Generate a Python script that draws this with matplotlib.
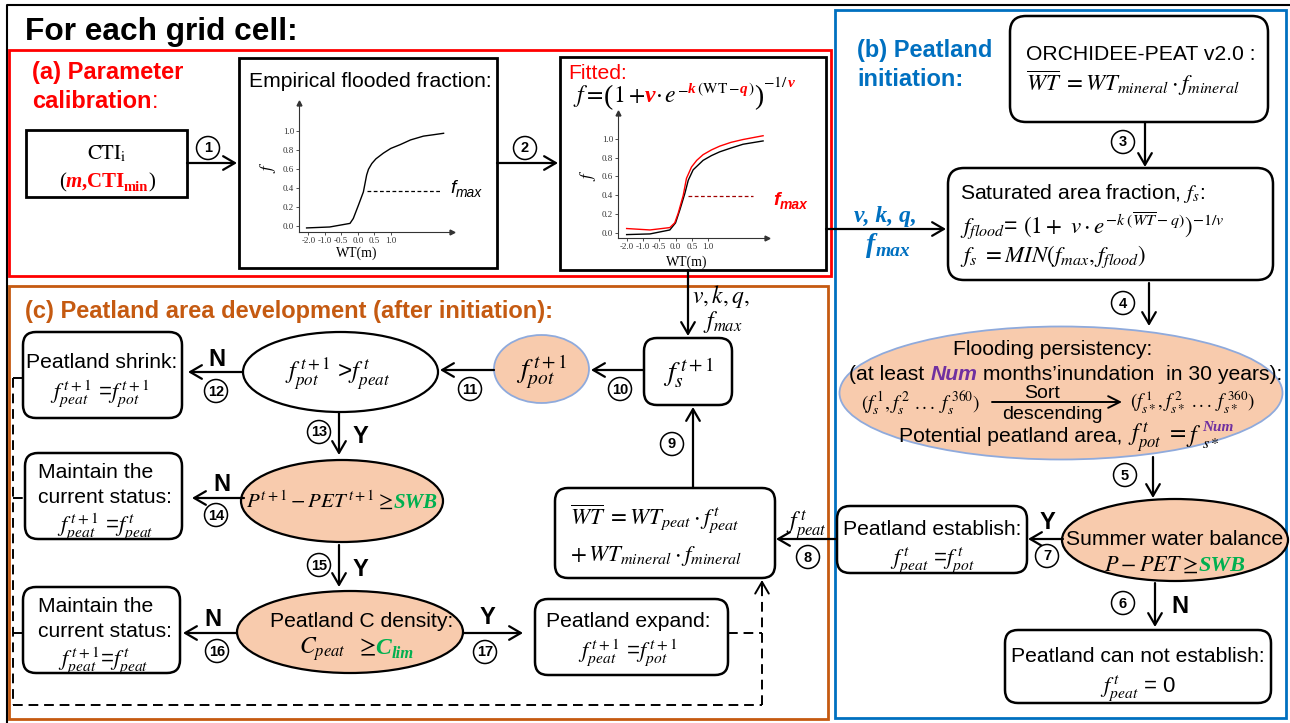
import matplotlib
matplotlib.use("Agg")
import matplotlib.pyplot as plt
from matplotlib.patches import Rectangle, FancyBboxPatch, Ellipse, Circle

plt.rcParams['font.family'] = ['Liberation Sans', 'DejaVu Sans']
plt.rcParams['mathtext.fontset'] = 'stix'

# ---- data for the two small flooded-fraction plots (x = tick slot, f = fraction)
wt_labels = ['-2.0', '-1.0', '-0.5', '0.0', '0.5', '1.0']
f_ticks = [0.0, 0.2, 0.4, 0.6, 0.8, 1.0]

emp_x = [-0.1, 1.3, 2.53, 2.73, 3.04, 3.34, 3.54, 3.65, 3.85, 4.1, 4.55, 5.0, 5.57, 6.2, 6.98, 7.6, 8.2]
emp_f = [-0.02, -0.01, 0.028, 0.08, 0.22, 0.36, 0.54, 0.60, 0.66, 0.71, 0.77, 0.82, 0.86, 0.91, 0.95, 0.965, 0.98]
emp_fmax = 0.37
emp_fmax_x = [3.54, 8.1]

fit_x = [0.0, 1.43, 2.65, 3.0, 3.27, 3.57, 3.78, 4.08, 4.69, 5.2, 5.71, 6.4, 7.14, 8.37]
fit_obs_f = [-0.014, -0.007, 0.035, 0.11, 0.25, 0.42, 0.56, 0.67, 0.77, 0.82, 0.86, 0.90, 0.94, 0.975]
fit_red_x = [0.0, 1.43, 2.65, 2.95, 3.16, 3.47, 3.67, 3.98, 4.3, 4.69, 5.2, 5.71, 6.4, 7.14, 8.37]
fit_red_f = [0.05, 0.035, 0.06, 0.11, 0.21, 0.40, 0.58, 0.70, 0.77, 0.83, 0.88, 0.92, 0.96, 0.99, 1.03]
fit_fmax = 0.39
fit_fmax_x = [3.78, 7.76]

RED = '#FF0000'
BLUE = '#0070C0'
ORANGE = '#C55A11'
PEACH = '#F8CBAD'
GREEN = '#00B050'
PURPLE = '#7030A0'
EDGE_BLUE = '#8FAADC'
SERIF = 'Liberation Serif'
FS = 15.2    # body text
MS = 16      # inline equations
YN = 17      # Y / N labels

fig = plt.figure(figsize=(12.9, 7.23), dpi=100)
ax = fig.add_axes([0, 0, 1, 1])
ax.set_xlim(0, 1290)
ax.set_ylim(723, 0)
ax.axis('off')
R = fig.canvas.get_renderer()

BI = dict(family=SERIF, style='italic', weight='bold')


def rect(x0, y0, x1, y1, color='black', lw=1.8):
    ax.add_patch(Rectangle((x0, y0), x1 - x0, y1 - y0, fc='none', ec=color, lw=lw))


def rbox(x0, y0, x1, y1, r=13, lw=1.8):
    ax.add_patch(FancyBboxPatch((x0, y0), x1 - x0, y1 - y0,
                                boxstyle=f"round,pad=0,rounding_size={r}",
                                fc='white', ec='black', lw=lw))


def ell(cx, cy, w, h, fc=PEACH, ec='black', lw=1.6):
    ax.add_patch(Ellipse((cx, cy), w, h, fc=fc, ec=ec, lw=lw))


def arrow(x0, y0, x1, y1, lw=1.6):
    ax.annotate('', xy=(x1, y1), xytext=(x0, y0),
                arrowprops=dict(arrowstyle='->,head_length=0.6,head_width=0.35',
                                lw=lw, color='black', shrinkA=0, shrinkB=0,
                                mutation_scale=14))


def num(cx, cy, n):
    ax.add_patch(Circle((cx, cy), 11.5, fc='white', ec='black', lw=1.1, zorder=3))
    ax.text(cx, cy + 0.5, str(n), ha='center', va='center', fontsize=10.5,
            weight='bold', zorder=4)


def txt(x, y, s, ha='center', fs=FS, **kw):
    ax.text(x, y, s, ha=ha, va='baseline', fontsize=fs, **kw)


def rich(x, y, parts, ha='center', fs=FS):
    items = []
    for p in parts:
        s = p[0]
        kw = dict(p[1]) if len(p) > 1 else {}
        dy = kw.pop('dy', 0)
        adv = kw.pop('adv', True)
        kw.setdefault('fontsize', fs)
        t = ax.text(0, y + dy, s, ha='left', va='baseline', **kw)
        w = t.get_window_extent(R).width
        items.append((t, w, adv))
    total = sum(w for _, w, a in items if a)
    cx = x - total / 2 if ha == 'center' else x
    for t, w, a in items:
        t.set_x(cx)
        if a:
            cx += w


def mini(px0, px1, py0, py1, xlim, ylim):
    a = fig.add_axes([px0 / 1290, (723 - py1) / 723, (px1 - px0) / 1290, (py1 - py0) / 723])
    a.set_xlim(*xlim)
    a.set_ylim(*ylim)
    a.patch.set_visible(False)
    for sp in ['top', 'right']:
        a.spines[sp].set_visible(False)
    for sp in ['left', 'bottom']:
        a.spines[sp].set_linewidth(0.8)
        a.spines[sp].set_color('#333333')
    a.set_xticks(range(len(wt_labels)))
    a.set_xticklabels(wt_labels)
    a.set_yticks(f_ticks)
    a.set_yticklabels([f'{v:.1f}' for v in f_ticks])
    a.tick_params(axis='both', labelsize=6.5, length=2, width=0.6, pad=1.5, colors='#333333')
    for lab in a.get_xticklabels() + a.get_yticklabels():
        lab.set_family(SERIF)
    a.plot(1, ylim[0], '>', color='#333333', ms=3.5, transform=a.get_yaxis_transform(), clip_on=False)
    a.plot(xlim[0], 1, '^', color='#333333', ms=3.5, transform=a.get_xaxis_transform(), clip_on=False)
    return a


# ---------------- frames
ax.plot([7, 7, 1290], [723, 5, 5], color='black', lw=1.5)
rect(9, 50, 831, 276, color=RED, lw=2)
rect(9, 286, 828, 719, color=ORANGE, lw=2)
rect(835, 10, 1286, 718, color=BLUE, lw=2)

txt(25, 40, 'For each grid cell:', ha='left', fs=22.8, weight='bold')

# ---------------- (a) parameter calibration
txt(32, 79, '(a) Parameter', ha='left', fs=17, weight='bold', color=RED)
rich(32, 108, [('calibration', dict(weight='bold', color=RED)), (':', dict(color=RED))],
     ha='left', fs=17)

rect(26, 130, 187, 197, lw=2)
txt(107, 159, r'$\mathrm{CTI}_\mathrm{i}$', fs=15)
rich(107, 187, [('(', dict(family=SERIF)),
                ('m', dict(color=RED, **BI)),
                (',', dict(color=RED, family=SERIF, weight='bold')),
                ('CTI', dict(color=RED, family=SERIF, weight='bold')),
                ('min', dict(color=RED, family=SERIF, weight='bold', fontsize=10.5, dy=4)),
                (')', dict(family=SERIF))], fs=15)
arrow(187, 163, 237, 163)
num(208, 148, 1)

rect(239, 58, 497, 268, lw=2)
txt(370, 87, 'Empirical flooded fraction:')
e = mini(299, 452, 103, 232, (-0.56, 8.71), (-0.063, 1.30))
e.plot(emp_x, emp_f, color='black', lw=1.0)
e.plot(emp_fmax_x, [emp_fmax, emp_fmax], color='black', lw=0.9, ls=(0, (3, 2)))
txt(357, 257, 'WT(m)', fs=10, family=SERIF)
ax.text(268, 167, '$f$', ha='center', va='center', fontsize=12, rotation=90)
rich(450, 193, [('f', dict(style='italic', fontsize=14)),
                ('max', dict(style='italic', fontsize=10, dy=4))], ha='left')

arrow(497, 163, 558, 163)
num(525, 148, 2)

rect(560, 57, 826, 270, lw=2)
txt(568, 79, 'Fitted:', ha='left', color=RED)
sup = dict(fontsize=11, dy=-9)
sup2 = dict(fontsize=11, dy=-15)
rich(573, 102, [('$f=$', {}),
                ('(', dict(fontsize=20, family=SERIF, dy=2)),
                ('$1+$', {}),
                ('v', dict(color=RED, **BI)),
                (r'$\cdot\,e$', {}),
                ('$-$', dict(sup)),
                ('k', dict(color=RED, **BI, **sup)),
                (r'$\,(\mathrm{WT}-$', dict(sup)),
                ('q', dict(color=RED, **BI, **sup)),
                ('$)$', dict(sup)),
                (')', dict(fontsize=20, family=SERIF, dy=2)),
                ('$-1/$', dict(sup2)),
                ('v', dict(color=RED, **BI, **sup2))], ha='left', fs=17)
g = mini(618, 767, 113, 238, (-0.53, 8.61), (-0.05, 1.27))
g.plot(fit_x, fit_obs_f, color='black', lw=1.0)
g.plot(fit_red_x, fit_red_f, color=RED, lw=1.0)
g.plot(fit_fmax_x, [fit_fmax, fit_fmax], color='#A00000', lw=0.9, ls=(0, (3, 2)))
txt(687, 266, 'WT(m)', fs=10, family=SERIF)
ax.text(588, 175, '$f$', ha='center', va='center', fontsize=12, rotation=90)
rich(773, 205, [('f', dict(style='italic', weight='bold', color=RED, fontsize=14)),
                ('max', dict(style='italic', weight='bold', color=RED, fontsize=10, dy=4))],
     ha='left')

# parameters passed to (b) and (c)
arrow(826, 229, 946, 229)
rich(885, 222, [('v, k, q,', dict(color=BLUE, **BI))], fs=17)
rich(888, 252, [('f', dict(color=BLUE, **BI)),
                ('max', dict(color=BLUE, fontsize=14, dy=4, **BI))], fs=20)

arrow(688, 270, 688, 336)
txt(692, 303, '$v,k,q,$', ha='left', fs=17)
txt(703, 328, '$f_{max}$', ha='left', fs=17)

# ---------------- (b) peatland initiation
txt(857, 57, '(b) Peatland', ha='left', fs=17, weight='bold', color=BLUE)
txt(857, 86, 'initiation:', ha='left', fs=17, weight='bold', color=BLUE)

rbox(1010, 16, 1268, 122, r=16)
txt(1026, 60, 'ORCHIDEE-PEAT v2.0 :', ha='left')
txt(1026, 91, r'$\overline{WT}\ = WT_{mineral}\cdot f_{mineral}$', ha='left', fs=16.5)

arrow(1145, 122, 1145, 167)
num(1123, 142, 3)

rbox(948, 168, 1273, 280, r=16)
txt(960, 199, 'Saturated area fraction, $f_s$:', ha='left')
txt(960, 233, r'$f_{flood}$= $\left(1+\ v\cdot e^{-k\ (\overline{WT}-q)}\right)^{-1/v}$', ha='left', fs=16.5)
txt(960, 262, r'$f_s\ = MIN\left(f_{max}, f_{flood}\right)$', ha='left', fs=16.5)

arrow(1149, 283, 1149, 326)
num(1123, 303, 4)

ell(1061, 393, 443, 133, ec=EDGE_BLUE, lw=1.3)
txt(1053, 355, 'Flooding persistency:')
rich(1066, 380, [('(at least ', {}),
                 ('Num', dict(color=PURPLE, weight='bold', style='italic')),
                 (' months\u2019inundation  in 30 years):', {})])
txt(921, 409, r'$(f_s^{\,1}, f_s^{\,2}\ ...\ f_s^{\,360})$', fs=14)
ax.annotate('', xy=(1122, 402), xytext=(992, 402),
            arrowprops=dict(arrowstyle='->,head_length=0.6,head_width=0.3', lw=1.4,
                            color='black', shrinkA=0, shrinkB=0, mutation_scale=14))
txt(1042, 398, 'Sort', fs=14)
txt(1052, 419, 'descending', fs=14)
txt(1193, 409, r'$(f_{s*}^{\,1}, f_{s*}^{\,2}\ ...\ f_{s*}^{\,360})$', fs=13.5)
rich(1066, 442, [('Potential peatland area, ', {}),
                 ('$f_{pot}^{\\,t}\\ =\\ $', dict(fontsize=17)),
                 ('$f$', dict(fontsize=17)),
                 ('$s*$', dict(fontsize=11.5, dy=6, adv=False)),
                 ('Num', dict(color=PURPLE, fontsize=11, dy=-11, **BI))])

arrow(1153, 457, 1153, 498)
num(1125, 475, 5)

ell(1175, 540, 226, 82)
txt(1175, 545, 'Summer water balance')
rich(1175, 571, [(r'$P-PET\geq\ $', {}), ('SWB', dict(color=GREEN, **BI))], fs=16)

arrow(1063, 539, 1028, 539)
txt(1047, 529, 'Y', fs=YN, weight='bold')
num(1047, 556, 7)

rbox(837, 506, 1027, 573)
txt(932, 535, 'Peatland establish:')
txt(932, 564, r'$f_{peat}^{\,t}$ =$f_{pot}^{\,t}$', fs=MS)

arrow(1155, 583, 1155, 627)
num(1123, 603, 6)
txt(1180, 613, 'N', fs=YN, weight='bold')

rbox(1005, 630, 1271, 703)
txt(1138, 662, 'Peatland can not establish:')
txt(1138, 692, r'$f_{peat}^{\,t}$ = 0', fs=MS)

# ---------------- (c) peatland area development
txt(25, 318, '(c) Peatland area development (after initiation):', ha='left', fs=17,
    weight='bold', color=ORANGE)

arrow(837, 539, 776, 539)
txt(806, 530, r'$f_{peat}^{\,t}$', fs=17)
num(808, 557, 8)

rbox(555, 488, 775, 578)
txt(570, 525, r'$\overline{WT}\ = WT_{peat}\cdot f_{peat}^{\,t}$', ha='left', fs=16.5)
txt(570, 561, r'$+\,WT_{mineral}\cdot f_{mineral}$', ha='left', fs=16.5)

arrow(693, 488, 693, 407)
num(672, 444, 9)

rbox(644, 338, 732, 405)
txt(688, 381, r'$f_s^{\,t+1}$', fs=20)

arrow(644, 370, 591, 370)
num(620, 389, 10)

ell(541.5, 369, 95, 68, ec=EDGE_BLUE, lw=1.3)
txt(541, 378, r'$f_{pot}^{\,t+1}$', fs=20)

arrow(494, 370, 440, 370)
num(470, 389, 11)

ell(340.5, 372, 195, 80, fc='white')
txt(338, 380, r'$f_{pot}^{\,t+1}$ >$f_{peat}^{\,t}$', fs=17.5)

arrow(243, 372, 188, 372)
txt(217, 366, 'N', fs=YN, weight='bold')
num(216, 391, 12)

rbox(23, 332, 182, 418)
txt(102, 368, 'Peatland shrink:')
txt(100, 398, r'$f_{peat}^{\,t+1}$ =$f_{pot}^{\,t+1}$', fs=MS)

arrow(339, 413, 339, 455)
num(319, 432, 13)
txt(360, 443, 'Y', fs=YN, weight='bold')

ell(342, 501, 202, 82)
rich(342, 508, [(r'$P^{t+1}-PET^{\,t+1}\geq\ $', {}), ('SWB', dict(color=GREEN, **BI))], fs=15)

arrow(244, 498, 192, 498)
txt(222, 491, 'N', fs=YN, weight='bold')
num(216, 515, 14)

rbox(25, 453, 182, 539)
txt(38, 478, 'Maintain the', ha='left')
txt(38, 503, 'current status:', ha='left')
txt(105, 531, r'$f_{peat}^{\,t+1}$ =$f_{peat}^{\,t}$', fs=MS)

arrow(339, 545, 339, 587)
num(319, 565, 15)
txt(360, 576, 'Y', fs=YN, weight='bold')

ell(350, 632, 226, 82)
txt(362, 627, 'Peatland C density:')
rich(356, 654, [(r'$C_{peat}\ \ \geq\ $', {}), ('C', dict(color=GREEN, **BI)),
                ('lim', dict(color=GREEN, fontsize=12, dy=4, **BI))], fs=17)

arrow(237, 633, 183, 633)
txt(213, 626, 'N', fs=YN, weight='bold')
num(217, 651, 16)

rbox(23, 587, 180, 673)
txt(38, 612, 'Maintain the', ha='left')
txt(38, 637, 'current status:', ha='left')
txt(103, 665, r'$f_{peat}^{\,t+1}$=$f_{peat}^{\,t}$', fs=MS)

arrow(463, 633, 523, 633)
txt(487, 624, 'Y', fs=YN, weight='bold')
num(485, 652, 17)

rbox(535, 599, 728, 675)
txt(628, 627, 'Peatland expand:')
txt(628, 657, r'$f_{peat}^{\,t+1}$ =$f_{pot}^{\,t+1}$', fs=MS)

# dashed feedback loop
dash = dict(color='black', lw=1.4, ls=(0, (5, 3)))
ax.plot([728, 762], [633, 633], **dash)
ax.plot([762, 762], [705, 586], **dash)
ax.plot([13, 762], [705, 705], **dash)
ax.plot([13, 13], [378, 705], **dash)
for yy, xx in [(378, 23), (498, 25), (633, 23)]:
    ax.plot([13, xx], [yy, yy], **dash)
arrow(762, 588, 762, 580, lw=1.4)

fig.savefig('out.png', dpi=100)
